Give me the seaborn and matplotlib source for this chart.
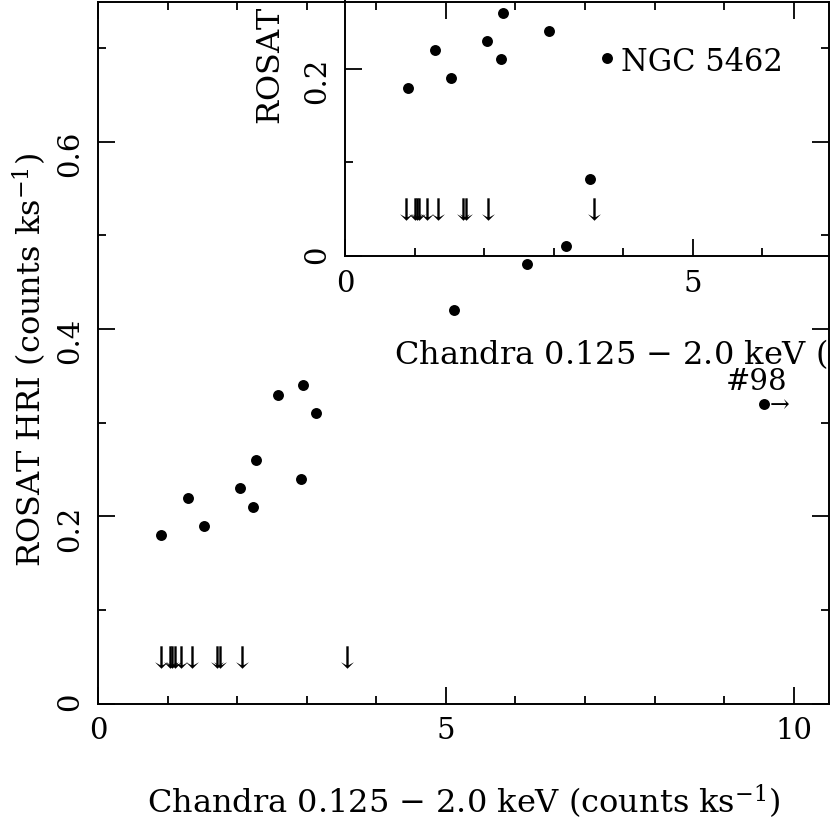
import matplotlib
matplotlib.use("Agg")
import matplotlib.pyplot as plt
import seaborn as sns
import pandas as pd
from matplotlib.ticker import MultipleLocator, FuncFormatter

# ---------------- data ----------------
# main panel: detections
main_det_x = [0.91, 1.29, 1.53, 2.04, 2.23, 2.27, 2.59, 2.95, 3.13, 2.92, 5.12, 6.16]
main_det_y = [0.18, 0.22, 0.19, 0.23, 0.21, 0.26, 0.33, 0.34, 0.31, 0.24, 0.42, 0.47]
# main panel: ROSAT upper limits
main_lim_x = [0.90, 1.04, 1.07, 1.11, 1.20, 1.35, 1.71, 1.75, 2.07, 3.58]
main_lim_y = [0.05] * len(main_lim_x)
# main panel: source #98 (Chandra lower limit)
src98_x = [9.57]
src98_y = [0.32]
src98_label = "#98"

# inset panel (NGC 5462)
ins_det_x = [0.90, 1.29, 1.53, 2.04, 2.24, 2.27, 2.93, 3.17, 3.52, 3.77]
ins_det_y = [0.18, 0.22, 0.19, 0.23, 0.21, 0.26, 0.24, 0.011, 0.082, 0.2115]
ins_lim_x = [0.87, 1.01, 1.04, 1.07, 1.18, 1.33, 1.69, 1.74, 2.06, 3.58]
ins_lim_y = [0.05] * len(ins_lim_x)
ins_label = "NGC 5462"

xlabel = "Chandra 0.125 \u2212 2.0 keV (counts ks$^{-1}$)"
ylabel = "ROSAT HRI (counts ks$^{-1}$)"

# ---------------- style ----------------
sns.set_theme(style="ticks")
plt.rcParams["font.family"] = ["DejaVu Serif"]
plt.rcParams["mathtext.fontset"] = "dejavuserif"
plt.rcParams.update({
    "xtick.direction": "in", "ytick.direction": "in",
    "xtick.top": True, "ytick.right": True,
    "xtick.major.size": 12, "ytick.major.size": 12,
    "xtick.minor.size": 6, "ytick.minor.size": 6,
    "xtick.major.width": 1.3, "ytick.major.width": 1.3,
    "xtick.minor.width": 1.3, "ytick.minor.width": 1.3,
    "axes.linewidth": 1.4,
    "axes.edgecolor": "black",
    "xtick.color": "black", "ytick.color": "black",
    "xtick.labelcolor": "black", "ytick.labelcolor": "black",
    "text.color": "black", "axes.labelcolor": "black",
    "font.size": 20,
})

W, H = 830, 824
fig = plt.figure(figsize=(W / 100, H / 100), dpi=100)

def px_axes(left, top, right, bottom):
    return [left / W, (H - bottom) / H, (right - left) / W, (bottom - top) / H]

ax = fig.add_axes(px_axes(98, 1.5, 828.5, 703.5))
ax2 = fig.add_axes(px_axes(345, 256 - 702, 345 + 730.5, 256))
ax2.set_facecolor("none")

fmt = FuncFormatter(lambda v, p: f"{v:g}")

def style_axes(a):
    a.set_xlim(0, 10.5)
    a.set_ylim(0, 0.75)
    a.xaxis.set_major_locator(MultipleLocator(5))
    a.xaxis.set_minor_locator(MultipleLocator(1))
    a.yaxis.set_major_locator(MultipleLocator(0.2))
    a.yaxis.set_minor_locator(MultipleLocator(0.1))
    a.xaxis.set_major_formatter(fmt)
    a.yaxis.set_major_formatter(fmt)
    a.tick_params(axis="both", which="both", direction="in", top=True, right=True,
                  labelsize=21, pad=10, colors="black")
    a.tick_params(axis="y", labelrotation=90)
    a.set_xlabel(xlabel, fontsize=23, labelpad=27)
    a.set_ylabel(ylabel, fontsize=23)
    for s in a.spines.values():
        s.set_visible(True)
        s.set_linewidth(1.4)
        s.set_color("black")

style_axes(ax)
style_axes(ax2)

# main panel
sns.scatterplot(x=main_det_x, y=main_det_y, ax=ax, color="black", s=62,
                linewidth=0, zorder=3)
sns.scatterplot(x=main_lim_x, y=main_lim_y, ax=ax, color="black",
                marker=r"$\downarrow$", s=260, linewidth=0, zorder=3)
sns.scatterplot(x=src98_x, y=src98_y, ax=ax, color="black", s=62,
                linewidth=0, zorder=3)
ax.annotate("\u2192", xy=(src98_x[0], src98_y[0]), xytext=(4, -1),
            textcoords="offset points", ha="left", va="center", fontsize=17)
ax.annotate(src98_label, xy=(src98_x[0], src98_y[0]), xytext=(-5, 16),
            textcoords="offset points", ha="center", va="center", fontsize=21)

# inset panel
sns.scatterplot(x=ins_det_x, y=ins_det_y, ax=ax2, color="black", s=62,
                linewidth=0, zorder=3)
sns.scatterplot(x=ins_lim_x, y=ins_lim_y, ax=ax2, color="black",
                marker=r"$\downarrow$", s=260, linewidth=0, zorder=3)
ax2.annotate(ins_label, xy=(ins_det_x[-1], ins_det_y[-1]), xytext=(10, -3),
             textcoords="offset points", ha="left", va="center", fontsize=22)

ax.yaxis.set_label_coords(-0.067, 0.489)
ax2.yaxis.set_label_coords(-0.076, 0.481)

fig.savefig("out.png", dpi=100)
